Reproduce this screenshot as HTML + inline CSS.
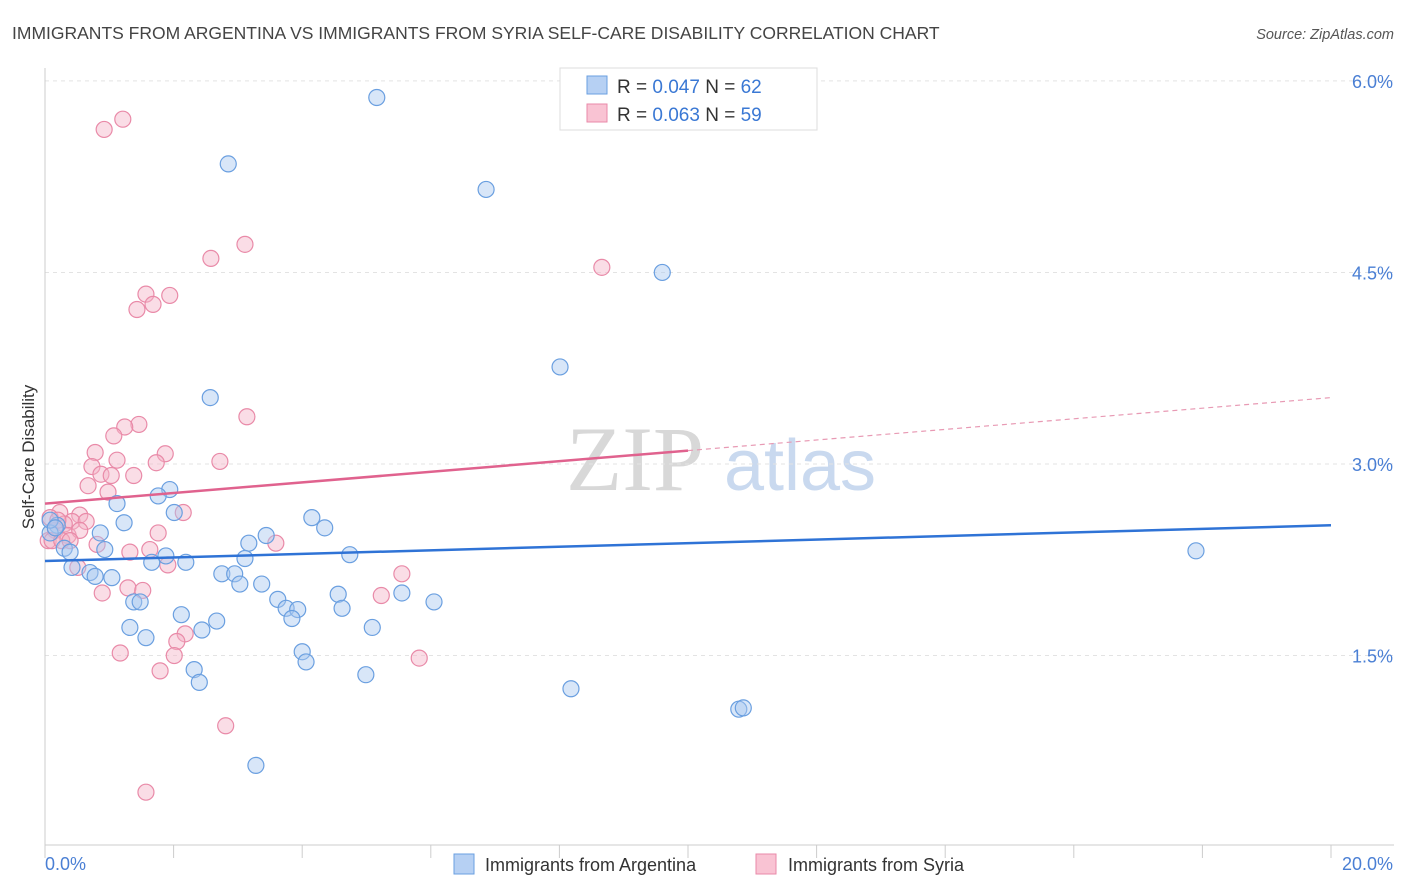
<!DOCTYPE html>
<html><head><meta charset="utf-8"><style>
body{margin:0;background:#fff;font-family:"Liberation Sans",sans-serif;}
svg{display:block}
</style></head><body>
<svg width="1406" height="892" viewBox="0 0 1406 892">
<text x="12" y="39" font-size="17.5" fill="#444">IMMIGRANTS FROM ARGENTINA VS IMMIGRANTS FROM SYRIA SELF-CARE DISABILITY CORRELATION CHART</text>
<text x="1394" y="39" font-size="14.5" fill="#555" font-style="italic" text-anchor="end">Source: ZipAtlas.com</text>
<g>
<text x="635" y="490" font-size="92" fill="#d8d8d8" font-family="Liberation Serif,serif" text-anchor="middle">ZIP</text>
<text x="800" y="490" font-size="72" fill="#c9d9ef" text-anchor="middle">atlas</text>
</g>
<g id="grid"></g>
<g id="axes"></g>
<g id="marks"></g>
<text transform="translate(34,457) rotate(-90)" font-size="17" fill="#333" text-anchor="middle">Self-Care Disability</text>
<g>
<rect x="560" y="68" width="257" height="62" fill="#fff" stroke="#ddd"/>
<rect x="587" y="76" width="20" height="18" fill="#b6d0f3" stroke="#6a9fe0"/>
<rect x="587" y="104" width="20" height="18" fill="#f9c3d3" stroke="#e98aa8"/>
<text x="617" y="93" font-size="19" fill="#333">R = <tspan fill="#3a78d4">0.047</tspan>   N = <tspan fill="#3a78d4">62</tspan></text>
<text x="617" y="121" font-size="19" fill="#333">R = <tspan fill="#3a78d4">0.063</tspan>   N = <tspan fill="#3a78d4">59</tspan></text>
</g>
<g>
<rect x="454" y="854" width="20" height="20" fill="#b6d0f3" stroke="#6a9fe0"/>
<text x="485" y="871" font-size="18" fill="#333">Immigrants from Argentina</text>
<rect x="756" y="854" width="20" height="20" fill="#f9c3d3" stroke="#e98aa8"/>
<text x="788" y="871" font-size="18" fill="#333">Immigrants from Syria</text>
</g>
</svg>
<script>
const blueX=[5.16,2.85,6.86,9.60,8.01,2.57,1.94,1.76,1.12,2.01,1.23,4.15,4.35,3.44,3.17,0.86,0.19,0.08,0.30,0.39,0.93,1.88,1.66,2.19,3.11,4.74,0.42,0.70,0.78,1.04,2.75,2.95,3.03,3.37,4.56,5.55,6.05,3.62,1.38,1.48,2.12,3.75,3.93,3.84,4.62,2.67,1.32,5.09,2.44,1.57,4.00,4.06,2.32,2.40,4.99,8.18,10.79,10.86,3.28,17.90,0.08,0.16];
const blueY=[5.87,5.35,5.15,4.50,3.76,3.52,2.80,2.75,2.69,2.62,2.54,2.58,2.50,2.44,2.38,2.46,2.52,2.46,2.34,2.31,2.33,2.28,2.23,2.23,2.26,2.29,2.19,2.15,2.12,2.11,2.14,2.14,2.06,2.06,1.98,1.99,1.92,1.94,1.92,1.92,1.82,1.87,1.86,1.79,1.87,1.77,1.72,1.72,1.70,1.64,1.53,1.45,1.39,1.29,1.35,1.24,1.08,1.09,0.64,2.32,2.56,2.50];
const pinkX=[1.21,0.92,3.11,2.58,8.66,1.57,1.94,1.68,1.43,3.14,1.46,1.24,1.07,0.78,1.87,1.73,2.72,1.12,0.73,0.87,1.03,1.38,0.67,0.98,2.15,0.23,0.54,0.08,0.42,0.30,0.64,1.76,0.16,0.36,0.54,0.05,3.59,0.81,1.63,1.32,0.11,0.26,1.91,0.51,5.55,1.29,1.52,5.23,0.89,2.18,2.05,1.17,2.01,5.82,1.79,2.81,1.57,0.39,0.20];
const pinkY=[5.70,5.62,4.72,4.61,4.54,4.33,4.32,4.25,4.21,3.37,3.31,3.29,3.22,3.09,3.08,3.01,3.02,3.03,2.98,2.92,2.91,2.91,2.83,2.78,2.62,2.62,2.60,2.58,2.55,2.53,2.55,2.46,2.48,2.44,2.48,2.40,2.38,2.37,2.33,2.31,2.40,2.40,2.21,2.19,2.14,2.03,2.01,1.97,1.99,1.67,1.61,1.52,1.50,1.48,1.38,0.95,0.43,2.40,2.56];
const yTicks=[1.5,3.0,4.5,6.0];
const yTickLabels=["1.5%","3.0%","4.5%","6.0%"];
const xTickLabels=["0.0%","20.0%"];
const blueTrend=[2.24,2.52];
const pinkTrend=[2.69,3.52];
const pinkSolidEnd=10;
const NS="http://www.w3.org/2000/svg";
const sx=v=>45+v*64.3;
const sy=v=>464-(v-3)*127.7;
function mk(tag,attrs,parent){const e=document.createElementNS(NS,tag);for(const k in attrs)e.setAttribute(k,attrs[k]);parent.appendChild(e);return e;}
const grid=document.getElementById('grid'),axes=document.getElementById('axes'),marks=document.getElementById('marks');
yTicks.forEach((t,i)=>{
 const l=mk('line',{x1:45,x2:1394,y1:sy(t),y2:sy(t),stroke:'#e3e3e3','stroke-dasharray':'4,4'},grid);
 
 
 const tx=mk('text',{x:1393,y:sy(t)+7,'font-size':18,fill:'#4a7fd4','text-anchor':'end'},axes);
 tx.textContent=yTickLabels[i];
 
 
});
const ay=mk('line',{x1:45,x2:45,y1:68,y2:845,stroke:'#ccc'},axes);


const ax=mk('line',{x1:45,x2:1394,y1:845,y2:845,stroke:'#ccc'},axes);


for(let i=0;i<=10;i++){
 const t=mk('line',{x1:sx(i*2),x2:sx(i*2),y1:845,y2:858,stroke:'#ccc'},axes);
 
 
}
const xl0=mk('text',{x:45,y:870,'font-size':18,fill:'#4a7fd4'},axes);
xl0.textContent=xTickLabels[0];


const xl1=mk('text',{x:1393,y:870,'font-size':18,fill:'#4a7fd4','text-anchor':'end'},axes);
xl1.textContent=xTickLabels[1];


function pts(X,Y,fill,stroke,name){X.forEach((x,i)=>{
 const c=mk('circle',{cx:sx(x),cy:sy(Y[i]),r:8,fill:fill,'fill-opacity':0.45,stroke:stroke,'stroke-width':1.2},marks);
 
 
});}
pts(pinkX,pinkY,'#f5b3c7','#e98aa8','point-syria');
pts(blueX,blueY,'#a9c8f0','#6a9fe0','point-argentina');
const bl=mk('line',{x1:sx(0),y1:sy(blueTrend[0]),x2:sx(20),y2:sy(blueTrend[1]),stroke:'#2f73d6','stroke-width':2.5},marks);


const pm=pinkTrend[0]+(pinkTrend[1]-pinkTrend[0])*pinkSolidEnd/20;
const pl=mk('line',{x1:sx(0),y1:sy(pinkTrend[0]),x2:sx(pinkSolidEnd),y2:sy(pm),stroke:'#e0628e','stroke-width':2.5},marks);


const pd=mk('line',{x1:sx(pinkSolidEnd),y1:sy(pm),x2:sx(20),y2:sy(pinkTrend[1]),stroke:'#e89ab4','stroke-width':1.2,'stroke-dasharray':'5,4'},marks);


</script>
</body></html>
